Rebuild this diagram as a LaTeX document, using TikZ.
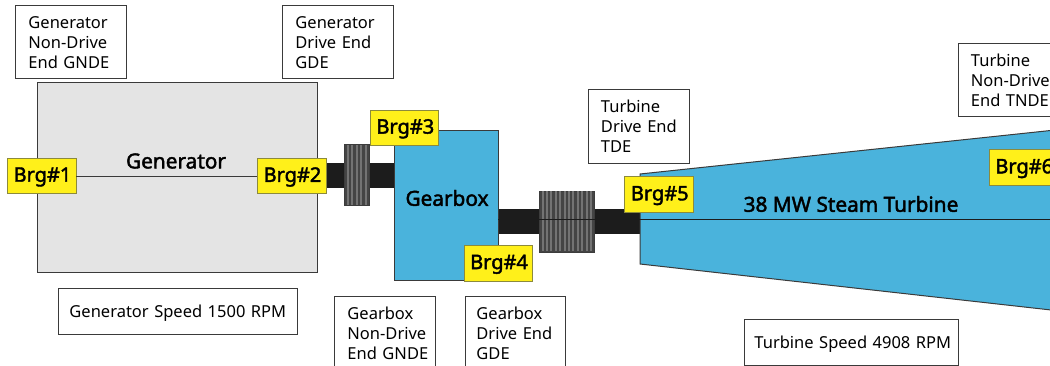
\documentclass[tikz,border=0pt]{standalone}
\usepackage{fontspec}
\setmainfont{Noto Sans}
\definecolor{brgy}{HTML}{FFF01A}
\definecolor{brgb}{HTML}{8C8A3C}
\definecolor{tblue}{HTML}{4AB3DC}
\definecolor{gengray}{HTML}{E4E4E4}
\definecolor{edge}{HTML}{3A3A3A}
\definecolor{shaftc}{HTML}{1C1C1C}
\definecolor{stripedark}{HTML}{444444}
\definecolor{stripelite}{HTML}{737373}
\definecolor{stripeedge}{HTML}{3C3C3C}
\tikzset{
  px/.style={x=1pt,y=-1pt},
  lab/.style={draw=edge,fill=white,line width=0.9pt,anchor=north west,inner xsep=0pt,inner ysep=0pt,align=left,font=\fontsize{16.5pt}{20pt}\selectfont},
  brg/.style={draw=brgb,fill=brgy,line width=0.9pt,minimum width=68.5pt,minimum height=35.5pt,inner sep=0pt,font=\fontsize{20pt}{20pt}\selectfont\addfontfeature{FakeBold=2}},
  title/.style={font=\fontsize{20.8pt}{20pt}\selectfont\addfontfeature{FakeBold=2},inner sep=0pt},
  body/.style={draw=edge,line width=1pt},
  shaftbar/.style={fill=shaftc,draw=none},
  thin/.style={draw=edge,line width=1pt},
  cpl/.style={fill=stripedark,draw=stripeedge,line width=0.8pt},
  stripe/.style={draw=stripelite,line width=2pt},
}
\newcommand{\ind}[1]{\hspace*{#1pt}}
\newcommand{\downone}[1]{\raisebox{-2pt}[\height][\depth]{#1}}
\newcommand{\brgtxt}[1]{\hspace*{1.5pt}\raisebox{-1pt}[\height][\depth]{#1}}
\begin{document}
\begin{tikzpicture}[px]
\clip (0,0) rectangle (1050,366);
\fill[white] (0,0) rectangle (1050,366);
% bodies
\node[body,fill=gengray,anchor=north west,minimum width=279.5pt,minimum height=190pt,inner sep=0pt] (gen) at (37,81.7) {};
% shafts
\fill[shaftbar] (326,163) rectangle (394,188);
\fill[shaftbar] (498,209) rectangle (640,234.3);
% turbine
\coordinate (t1) at (640,174);
\coordinate (t2) at (1060,129.5);
\coordinate (t3) at (1060,311);
\coordinate (t4) at (640,264);
\filldraw[body,fill=tblue] (t1) -- (t2) -- (t3) -- (t4) -- cycle;
% gearbox
\node[body,fill=tblue,anchor=north west,minimum width=104.3pt,minimum height=150pt,inner sep=0pt] (gear) at (394,130) {};
% couplings
\node[cpl,anchor=north west,minimum width=25.3pt,minimum height=61pt,inner sep=0pt] (c1) at (344,144.3) {};
\foreach \i in {0,...,4} \draw[stripe] (347.5+\i*4.5,145) -- ++(0,59.6);
\node[cpl,anchor=north west,minimum width=54.7pt,minimum height=61.3pt,inner sep=0pt] (c2) at (539,190.7) {};
\foreach \i in {0,...,11} \draw[stripe] (542.5+\i*4.4,191.4) -- ++(0,60);
% shaft line
\coordinate (s0) at (498,219.5);
\coordinate (s1) at (1060,219.5);
\draw[draw=shaftc,line width=1pt] (s0) -- (s1);
% labels
\node[lab,text width=110.8pt,minimum height=73pt] (l1) at (15,5.2) {\ind{13}Generator\\\ind{13}Non-Drive\\\ind{13}End GNDE\\[3pt]};
\node[lab,text width=110.5pt,minimum height=73pt] (l2) at (282,5.2) {\ind{13}Generator\\\ind{13}Drive End\\\ind{13}GDE\\[3pt]};
\node[lab,text width=100.5pt,minimum height=74pt] (l3) at (588,89) {\ind{12.5}Turbine\\\ind{12.5}Drive End\\\ind{12.5}TDE\\[3pt]};
\node[lab,text width=110pt,minimum height=73pt] (l4) at (958,43.3) {\ind{12.5}Turbine\\\ind{12.5}Non-Drive\\\ind{12.5}End TNDE\\[3pt]};
\node[lab,text width=239pt,minimum height=46pt] (l5) at (58,288) {\ind{11}\downone{Generator Speed 1500 RPM}};
\node[lab,text width=101pt,minimum height=73pt] (l6) at (334,296) {\ind{13}Gearbox\\\ind{13}Non-Drive\\\ind{13}End GNDE\\[3pt]};
\node[lab,text width=100pt,minimum height=73pt] (l7) at (465,296) {\ind{11}Gearbox\\\ind{11}Drive End\\\ind{11}GDE\\[3pt]};
\node[lab,text width=214pt,minimum height=46pt] (l8) at (744,319) {\ind{10}\downone{Turbine Speed 4908 RPM}};
% bearings
\node[brg] (b1) at (41.7,176) {\brgtxt{Brg\#1}};
\node[brg] (b2) at (291.7,176) {\brgtxt{Brg\#2}};
\node[brg] (b3) at (404.6,127.8) {\brgtxt{Brg\#3}};
\node[brg] (b4) at (498.3,263.3) {\brgtxt{Brg\#4}};
\node[brg] (b5) at (659,194.6) {\brgtxt{Brg\#5}};
\node[brg] (b6) at (1023.5,167.5) {\brgtxt{Brg\#6}};
\draw[thin] ([yshift=-1pt]b1.east) -- ([yshift=-1pt]b2.west);
% titles
\node[title] (tg) at (176,161) {Generator};
\node[title] (tb) at (447,198) {Gearbox};
\node[title] (tt) at (851,204) {38 MW Steam Turbine};
\end{tikzpicture}
\end{document}
